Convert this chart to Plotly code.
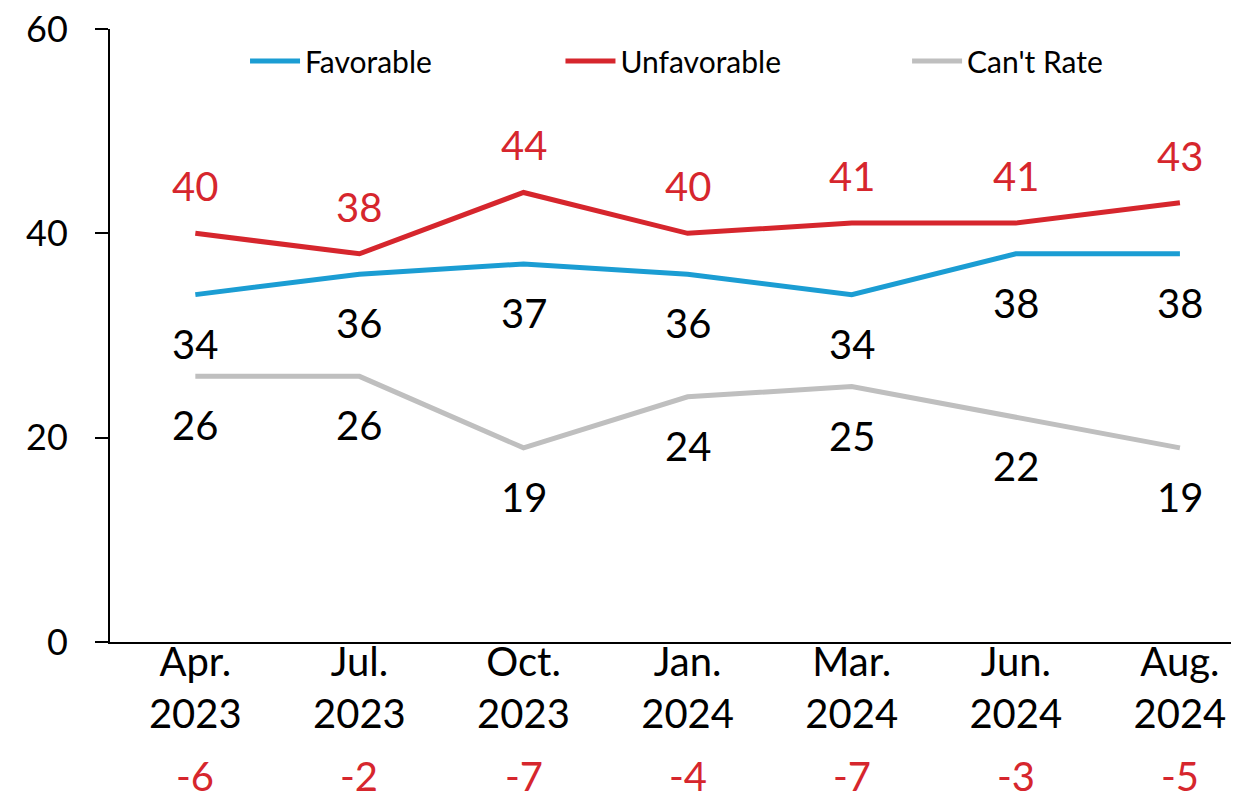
import plotly.graph_objects as go

categories = ["Apr.<br>2023", "Jul.<br>2023", "Oct.<br>2023", "Jan.<br>2024",
              "Mar.<br>2024", "Jun.<br>2024", "Aug.<br>2024"]
favorable = [34, 36, 37, 36, 34, 38, 38]
unfavorable = [40, 38, 44, 40, 41, 41, 43]
cant_rate = [26, 26, 19, 24, 25, 22, 19]
net = [f - u for f, u in zip(favorable, unfavorable)]

BLUE = "#1b9dd3"
RED = "#d6262d"
GRAY = "#bfbfbf"
FONT = "Lato"

fig = go.Figure()
fig.add_trace(go.Scatter(x=categories, y=favorable, mode="lines", name="Favorable",
                         line=dict(color=BLUE, width=5), legend="legend"))
fig.add_trace(go.Scatter(x=categories, y=unfavorable, mode="lines", name="Unfavorable",
                         line=dict(color=RED, width=5), legend="legend2"))
fig.add_trace(go.Scatter(x=categories, y=cant_rate, mode="lines", name="Can't Rate",
                         line=dict(color=GRAY, width=5), legend="legend3"))

LBL = 40
annotations = []
for c, v in zip(categories, favorable):
    annotations.append(dict(x=c, y=v, text=str(v), showarrow=False, yshift=-49,
                            font=dict(size=LBL, color="black", family=FONT)))
for c, v in zip(categories, unfavorable):
    annotations.append(dict(x=c, y=v, text=str(v), showarrow=False, yshift=47,
                            font=dict(size=LBL, color=RED, family=FONT)))
for c, v in zip(categories, cant_rate):
    annotations.append(dict(x=c, y=v, text=str(v), showarrow=False, yshift=-49,
                            font=dict(size=LBL, color="black", family=FONT)))
for c, v in zip(categories, net):
    annotations.append(dict(x=c, y=0, yref="y", text=str(v), showarrow=False, yshift=-134,
                            font=dict(size=LBL, color=RED, family=FONT)))

leg_common = dict(orientation="h", yanchor="middle", y=0.948, xanchor="left",
                  font=dict(size=30, family=FONT, color="black"),
                  bgcolor="rgba(0,0,0,0)", itemwidth=50)

fig.update_layout(
    width=1239, height=802,
    margin=dict(l=102, r=8, t=21, b=168),
    plot_bgcolor="white", paper_bgcolor="white",
    font=dict(family=FONT, color="black", size=36),
    showlegend=True,
    legend=dict(x=0.1196, **leg_common),
    legend2=dict(x=0.399, **leg_common),
    legend3=dict(x=0.706, **leg_common),
    xaxis=dict(range=[-0.52, 6.36], showline=True, linecolor="black", linewidth=2,
               ticks="", tickfont=dict(size=LBL, family=FONT), showgrid=False, zeroline=False,
               automargin=False, ticklabelstandoff=-16, ticklabeloverflow="allow"),
    yaxis=dict(range=[0, 60], tickvals=[0, 20, 40, 60], showline=True, linecolor="black",
               linewidth=2, ticks="outside", ticklen=13, tickwidth=2, tickcolor="black",
               tickfont=dict(size=36, family=FONT), showgrid=False, zeroline=False,
               automargin=False, ticklabelstandoff=20, ticklabeloverflow="allow"),
    annotations=annotations,
)

fig.write_html("out.html")
